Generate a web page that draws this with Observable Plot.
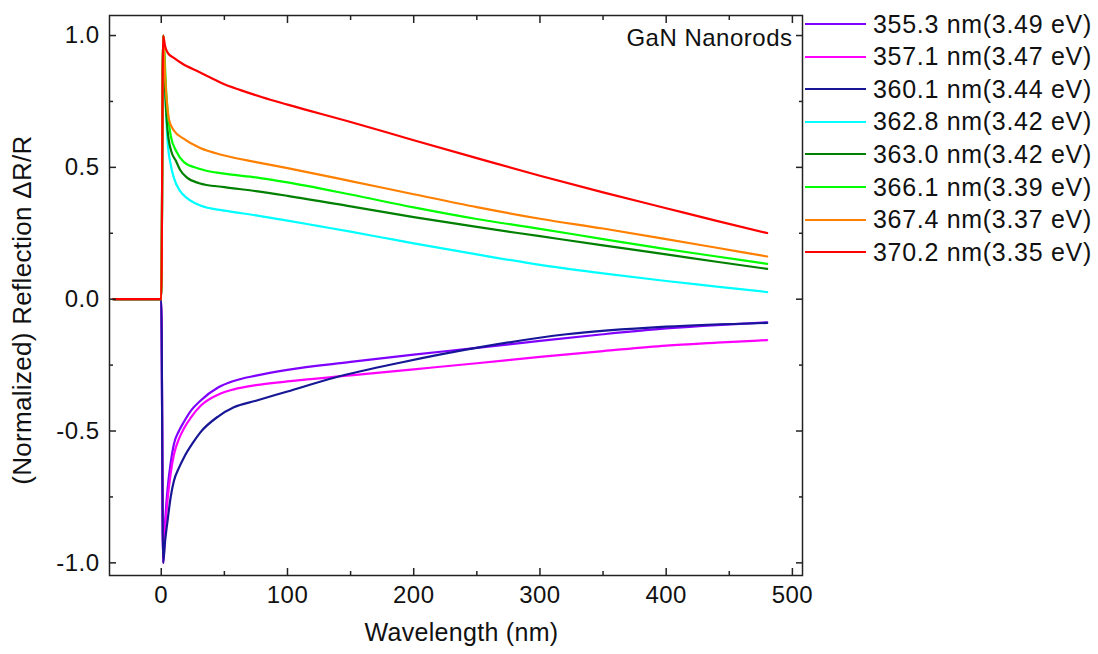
<!DOCTYPE html>
<html><head><meta charset="utf-8">
<script src="https://cdn.jsdelivr.net/npm/d3@7"></script>
<script src="https://cdn.jsdelivr.net/npm/@observablehq/plot@0.6"></script>
<style>
body{margin:0;background:#fff;}
#wrap{position:relative;width:1098px;height:654px;font-family:"Liberation Sans",Arial,sans-serif;color:#111;}
#wrap svg text{letter-spacing:0.5px;}
.row{position:absolute;left:805px;height:32px;display:flex;align-items:center;white-space:nowrap;font-size:25px;letter-spacing:0.7px;}
.swatch{width:61px;height:0;border-top:2.5px solid;margin-right:7px;}
.xtitle{position:absolute;left:115px;width:693px;top:618px;text-align:center;font-size:25px;letter-spacing:0.3px;}
.ytitle{position:absolute;left:22px;top:310px;transform:translate(-50%,-50%) rotate(-90deg);white-space:nowrap;font-size:26px;letter-spacing:0.3px;}
</style></head>
<body><div id="wrap"></div>
<script>
const seriesNames = ["355.3 nm(3.49 eV)","357.1 nm(3.47 eV)","360.1 nm(3.44 eV)","362.8 nm(3.42 eV)","363.0 nm(3.42 eV)","366.1 nm(3.39 eV)","367.4 nm(3.37 eV)","370.2 nm(3.35 eV)"];
const seriesColors = ["#8000ff","#ff00ff","#161696","#00ffff","#008000","#00ff00","#ff8000","#ff0000"];

const s355 = [[-38,0],[-1,0],[0,0],[1.5,-1],[3,-0.85],[5,-0.72],[7.5,-0.62],[10,-0.55],[14,-0.50],[18,-0.465],[24,-0.42],[31,-0.385],[45,-0.335],[57.5,-0.31],[75,-0.29],[100,-0.268],[150,-0.238],[200,-0.21],[250,-0.185],[300,-0.158],[350,-0.133],[400,-0.111],[440,-0.098],[480,-0.088]];
const s357 = [[-38,0],[-1,0],[0,0],[1.5,-1],[3,-0.88],[5,-0.76],[7.5,-0.66],[10,-0.59],[14,-0.53],[18,-0.49],[24,-0.445],[31,-0.405],[45,-0.362],[57.5,-0.342],[75,-0.326],[100,-0.312],[150,-0.289],[200,-0.266],[250,-0.243],[300,-0.219],[350,-0.197],[400,-0.176],[440,-0.165],[480,-0.155]];
const s360 = [[-38,0],[-1,0],[0,0],[1.5,-1],[3,-0.92],[5,-0.84],[7.5,-0.75],[10,-0.69],[14,-0.64],[18,-0.60],[25,-0.545],[31,-0.505],[45,-0.445],[57.5,-0.41],[75,-0.385],[100,-0.35],[137,-0.298],[190,-0.24],[255,-0.18],[321,-0.133],[400,-0.104],[480,-0.09]];
const s362 = [[-38,0],[-1,0],[0,0],[1.5,1],[3,0.8],[5,0.6],[7.5,0.51],[10,0.46],[15,0.41],[20,0.385],[31,0.355],[50,0.336],[75,0.318],[100,0.298],[125,0.277],[150,0.256],[175,0.234],[200,0.212],[250,0.17],[300,0.13],[350,0.098],[400,0.069],[440,0.048],[480,0.027]];
const s363 = [[-38,0],[-1,0],[0,0],[1.5,1],[3,0.8],[5,0.64],[8,0.56],[11.5,0.526],[15,0.49],[20.7,0.46],[30,0.44],[50,0.425],[75,0.41],[100,0.392],[150,0.352],[200,0.311],[250,0.274],[300,0.239],[350,0.204],[400,0.17],[440,0.142],[480,0.115]];
const s366 = [[-38,0],[-1,0],[0,0],[1.5,1],[4,0.78],[7.5,0.62],[12,0.56],[18,0.52],[30,0.495],[50,0.476],[75,0.462],[100,0.443],[150,0.397],[200,0.348],[250,0.304],[300,0.267],[350,0.228],[400,0.19],[440,0.162],[480,0.134]];
const s367 = [[-38,0],[-1,0],[0,0],[1.5,1],[3,0.85],[6.2,0.68],[10,0.64],[18,0.608],[30,0.575],[50,0.545],[75,0.52],[100,0.497],[150,0.448],[200,0.398],[250,0.349],[300,0.305],[350,0.268],[400,0.228],[440,0.195],[480,0.162]];
const s370 = [[-38,0],[-1,0],[0,0],[1.5,1],[3,0.96],[5,0.935],[10,0.915],[16.8,0.893],[30,0.862],[40,0.838],[50,0.815],[62.8,0.793],[80,0.766],[100,0.738],[150,0.672],[200,0.603],[250,0.535],[300,0.468],[350,0.405],[400,0.345],[440,0.297],[480,0.251]];
const seriesData = [s355,s357,s360,s362,s363,s366,s367,s370];

const xMajor = [0,100,200,300,400,500];
const xMinor = [50,150,250,350,450];
const yMajor = [-1,-0.5,0,0.5,1];
const yMinor = [-0.75,-0.25,0.25,0.75];
const noteText = "GaN Nanorods";
const xTitle = "Wavelength (nm)";
const yTitle = "(Normalized) Reflection ΔR/R";

const rows = [];
seriesData.forEach((pts, i) => pts.forEach(([x, y]) => rows.push({series: seriesNames[i], x, y})));

const tickStyle = {stroke: "#222", strokeWidth: 1.5, tickFormat: () => "", label: null};
const chart = Plot.plot({
  width: 1098, height: 654,
  marginLeft: 109, marginRight: 296, marginTop: 15, marginBottom: 79,
  style: {fontFamily: '"Liberation Sans", Arial, sans-serif', fontSize: "24px", color: "#111", background: "#fff"},
  x: {domain: [-41, 508]},
  y: {domain: [-1.048, 1.076]},
  color: {domain: seriesNames, range: seriesColors},
  marks: [
    Plot.line(rows, {x: "x", y: "y", z: "series", stroke: "series", strokeWidth: 2.2, curve: "monotone-x"}),
    Plot.frame({stroke: "#222", strokeWidth: 1.5}),
    Plot.axisX({anchor: "bottom", ticks: xMajor, tickSize: 0, tickPadding: 10, tickFormat: d => String(d), label: null}),
    Plot.axisX({anchor: "bottom", ticks: xMajor, tickSize: -7, ...tickStyle}),
    Plot.axisX({anchor: "bottom", ticks: xMinor, tickSize: -4, ...tickStyle}),
    Plot.axisX({anchor: "top", ticks: xMajor, tickSize: -7, ...tickStyle}),
    Plot.axisX({anchor: "top", ticks: xMinor, tickSize: -4, ...tickStyle}),
    Plot.axisY({anchor: "left", ticks: yMajor, tickSize: 0, tickPadding: 10, tickFormat: d => d.toFixed(1), label: null}),
    Plot.axisY({anchor: "left", ticks: yMajor, tickSize: -7, ...tickStyle}),
    Plot.axisY({anchor: "left", ticks: yMinor, tickSize: -4, ...tickStyle}),
    Plot.axisY({anchor: "right", ticks: yMajor, tickSize: -7, ...tickStyle}),
    Plot.axisY({anchor: "right", ticks: yMinor, tickSize: -4, ...tickStyle}),
    Plot.text([noteText], {frameAnchor: "top-right", dx: -10, dy: 13, lineAnchor: "top", textAnchor: "end", fontSize: 24, fill: "#111", style: "letter-spacing:1px"})
  ]
});
const wrap = document.getElementById("wrap");
wrap.appendChild(chart);

seriesNames.forEach((name, i) => {
  const row = document.createElement("div");
  row.className = "row";
  row.style.top = (8 + i * 32.6) + "px";
  const sw = document.createElement("span");
  sw.className = "swatch";
  sw.style.borderTopColor = seriesColors[i];
  const t = document.createElement("span");
  t.textContent = name;
  row.appendChild(sw); row.appendChild(t);
  wrap.appendChild(row);
});
const xt = document.createElement("div"); xt.className = "xtitle"; xt.textContent = xTitle; wrap.appendChild(xt);
const yt = document.createElement("div"); yt.className = "ytitle"; yt.textContent = yTitle; wrap.appendChild(yt);
</script>
</body></html>
